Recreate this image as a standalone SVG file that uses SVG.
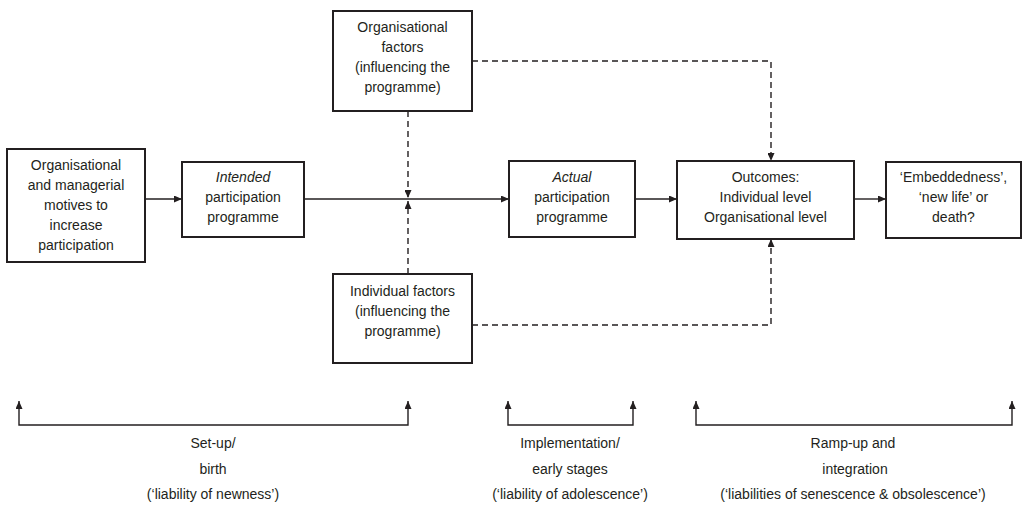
<svg xmlns="http://www.w3.org/2000/svg" width="1032" height="505" viewBox="0 0 1032 505">
<style>
.box{fill:#fff;stroke:#231f20;stroke-width:2}
.t{font-family:"Liberation Sans",Arial,sans-serif;font-size:14px;fill:#231f20;text-anchor:middle}
.i{font-style:italic}
.c{fill:none;stroke:#231f20;stroke-width:1.4}
.d{fill:none;stroke:#231f20;stroke-width:1.4;stroke-dasharray:6 4}
</style>
<defs>
<marker id="ah" viewBox="0 0 8 7" refX="8" refY="3.5" markerWidth="8" markerHeight="7" markerUnits="userSpaceOnUse" orient="auto-start-reverse">
<path d="M0,0 L8,3.5 L0,7 z" fill="#231f20"/>
</marker>
</defs>
<rect width="1032" height="505" fill="#fff"/>
<g id="connectors">
<line class="c" x1="145" y1="199" x2="182" y2="199" marker-end="url(#ah)"/>
<line class="c" x1="304" y1="199" x2="509" y2="199" marker-end="url(#ah)"/>
<line class="d" x1="408" y1="111" x2="408" y2="198" marker-end="url(#ah)"/>
<line class="d" x1="408" y1="274" x2="408" y2="201" marker-end="url(#ah)"/>
<line class="c" x1="635" y1="199" x2="677" y2="199" marker-end="url(#ah)"/>
<line class="c" x1="854" y1="199" x2="886" y2="199" marker-end="url(#ah)"/>
<path class="d" d="M472,61 H771 V161" marker-end="url(#ah)"/>
<path class="d" d="M472,325 H771 V239" marker-end="url(#ah)"/>
<path class="c" d="M19,401 V425 H408 V401" marker-start="url(#ah)" marker-end="url(#ah)"/>
<path class="c" d="M508,401 V425 H633 V401" marker-start="url(#ah)" marker-end="url(#ah)"/>
<path class="c" d="M696,401 V425 H1012 V401" marker-start="url(#ah)" marker-end="url(#ah)"/>
</g>
<g id="motives">
<rect class="box" x="7" y="149" width="138" height="113"/>
<text class="t" x="76" y="170">Organisational</text>
<text class="t" x="76" y="190">and managerial</text>
<text class="t" x="76" y="210">motives to</text>
<text class="t" x="76" y="230">increase</text>
<text class="t" x="76" y="250">participation</text>
</g>
<g id="intended">
<rect class="box" x="182" y="162" width="122" height="75"/>
<text class="t i" x="243" y="182">Intended</text>
<text class="t" x="243" y="202">participation</text>
<text class="t" x="243" y="222">programme</text>
</g>
<g id="org-factors">
<rect class="box" x="333" y="11" width="139" height="100"/>
<text class="t" x="402.5" y="32">Organisational</text>
<text class="t" x="402.5" y="52">factors</text>
<text class="t" x="402.5" y="72">(influencing the</text>
<text class="t" x="402.5" y="92">programme)</text>
</g>
<g id="ind-factors">
<rect class="box" x="333" y="274" width="139" height="89"/>
<text class="t" x="402.5" y="296">Individual factors</text>
<text class="t" x="402.5" y="316">(influencing the</text>
<text class="t" x="402.5" y="336">programme)</text>
</g>
<g id="actual">
<rect class="box" x="509" y="161" width="126" height="76"/>
<text class="t i" x="572" y="182">Actual</text>
<text class="t" x="572" y="202">participation</text>
<text class="t" x="572" y="222">programme</text>
</g>
<g id="outcomes">
<rect class="box" x="677" y="161" width="177" height="78"/>
<text class="t" x="765.5" y="182">Outcomes:</text>
<text class="t" x="765.5" y="202">Individual level</text>
<text class="t" x="765.5" y="222">Organisational level</text>
</g>
<g id="final">
<rect class="box" x="886" y="162" width="135" height="76"/>
<text class="t" x="953.5" y="182">‘Embeddedness’,</text>
<text class="t" x="953.5" y="202">‘new life’ or</text>
<text class="t" x="953.5" y="222">death?</text>
</g>
<g id="stage-setup">
<text class="t" x="213" y="448">Set-up/</text>
<text class="t" x="213" y="474">birth</text>
<text class="t" x="213" y="499">(‘liability of newness’)</text>
</g>
<g id="stage-implementation">
<text class="t" x="570" y="448">Implementation/</text>
<text class="t" x="570" y="474">early stages</text>
<text class="t" x="570" y="499">(‘liability of adolescence’)</text>
</g>
<g id="stage-rampup">
<text class="t" x="853" y="448">Ramp-up and</text>
<text class="t" x="855" y="474">integration</text>
<text class="t" x="853" y="499">(‘liabilities of senescence &amp; obsolescence’)</text>
</g>
</svg>
